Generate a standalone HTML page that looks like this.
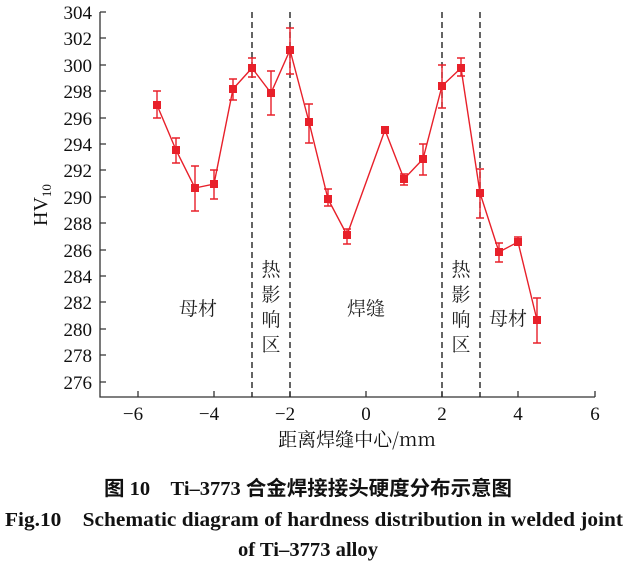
<!DOCTYPE html>
<html><head><meta charset="utf-8"><style>body{margin:0;background:#fff}svg{display:block}</style></head><body>
<svg width="627" height="567" xmlns="http://www.w3.org/2000/svg" font-family="Liberation Serif, Noto Serif CJK SC, serif">
<g stroke="#333" stroke-width="1.3" fill="none">
<path d="M100,12 V397 H595"/>
<path d="M100,12h6M100,38h6M100,65h6M100,91h6M100,118h6M100,144h6M100,170h6M100,197h6M100,223h6M100,250h6M100,276h6M100,302h6M100,329h6M100,355h6M100,382h6"/>
<path d="M138,397v-6M214,397v-6M290,397v-6M366,397v-6M442,397v-6M518,397v-6M595,397v-6"/>
</g>
<g stroke="#222" stroke-width="1.4" stroke-dasharray="6,4">
<path d="M252,12V397M290,12V397M442,12V397M480,12V397"/>
</g>
<g font-size="19" text-anchor="end" fill="#111">
<text x="92" y="19">304</text><text x="92" y="45">302</text><text x="92" y="72">300</text><text x="92" y="98">298</text><text x="92" y="125">296</text><text x="92" y="151">294</text><text x="92" y="177">292</text><text x="92" y="204">290</text><text x="92" y="230">288</text><text x="92" y="257">286</text><text x="92" y="283">284</text><text x="92" y="309">282</text><text x="92" y="336">280</text><text x="92" y="362">278</text><text x="92" y="389">276</text>
</g>
<g font-size="19" text-anchor="middle" fill="#111">
<text x="133" y="420">−6</text><text x="209" y="420">−4</text><text x="285" y="420">−2</text><text x="366" y="420">0</text><text x="442" y="420">2</text><text x="518" y="420">4</text><text x="595" y="420">6</text>
<text x="357" y="446" font-family="Noto Serif CJK SC, serif" font-size="19">距离焊缝中心/mm</text>
</g>
<text transform="translate(47,205) rotate(-90)" font-size="20" text-anchor="middle" fill="#111">HV<tspan font-size="13" dy="4">10</tspan></text>
<g font-family="Noto Serif CJK SC, serif" font-size="19" fill="#222" text-anchor="middle">
<text x="198" y="315">母材</text><text x="366" y="315">焊缝</text><text x="508" y="325">母材</text>
<text x="271" y="276">热</text><text x="271" y="301">影</text><text x="271" y="326">响</text><text x="271" y="351">区</text>
<text x="461" y="276">热</text><text x="461" y="301">影</text><text x="461" y="326">响</text><text x="461" y="351">区</text>
</g>
<g stroke="#e8202a" stroke-width="1.4" fill="none">
<polyline points="157,105 176,150 195,188 214,184 233,89 252,68 271,93 290,50 309,122 328,199 347,235 385,130 404,179 423,159 442,86 461,68 480,193 499,252 518,242 537,320"/>
<path d="M157,91V118M153,91h8M153,118h8
M176,138V163M172,138h8M172,163h8
M195,166V211M191,166h8M191,211h8
M214,170V199M210,170h8M210,199h8
M233,79V100M229,79h8M229,100h8
M252,58V77M248,58h8M248,77h8
M271,71V115M267,71h8M267,115h8
M290,28V74M286,28h8M286,74h8
M309,104V143M305,104h8M305,143h8
M328,189V206M324,189h8M324,206h8
M347,229V244M343,229h8M343,244h8
M404,174V185M400,174h8M400,185h8
M423,144V175M419,144h8M419,175h8
M442,65V108M438,65h8M438,108h8
M461,58V76M457,58h8M457,76h8
M480,169V218M476,169h8M476,218h8
M499,243V262M495,243h8M495,262h8
M518,237V245M514,237h8M514,245h8
M537,298V343M533,298h8M533,343h8"/>
</g>
<g fill="#e8202a">
<rect x="153" y="101" width="8" height="8"/><rect x="172" y="146" width="8" height="8"/><rect x="191" y="184" width="8" height="8"/><rect x="210" y="180" width="8" height="8"/><rect x="229" y="85" width="8" height="8"/><rect x="248" y="64" width="8" height="8"/><rect x="267" y="89" width="8" height="8"/><rect x="286" y="46" width="8" height="8"/><rect x="305" y="118" width="8" height="8"/><rect x="324" y="195" width="8" height="8"/><rect x="343" y="231" width="8" height="8"/><rect x="381" y="126" width="8" height="8"/><rect x="400" y="175" width="8" height="8"/><rect x="419" y="155" width="8" height="8"/><rect x="438" y="82" width="8" height="8"/><rect x="457" y="64" width="8" height="8"/><rect x="476" y="189" width="8" height="8"/><rect x="495" y="248" width="8" height="8"/><rect x="514" y="238" width="8" height="8"/><rect x="533" y="316" width="8" height="8"/>
</g>
<g font-weight="bold" fill="#111" font-size="20">
<text x="104" y="495" textLength="408" lengthAdjust="spacingAndGlyphs" font-family="Liberation Serif, Noto Sans CJK SC, serif">图 10　Ti–3773 合金焊接接头硬度分布示意图</text>
<text x="5" y="526" textLength="618" lengthAdjust="spacingAndGlyphs">Fig.10　Schematic diagram of hardness distribution in welded joint</text>
<text x="238" y="556" textLength="140" lengthAdjust="spacingAndGlyphs">of Ti–3773 alloy</text>
</g>
</svg>
</body></html>
